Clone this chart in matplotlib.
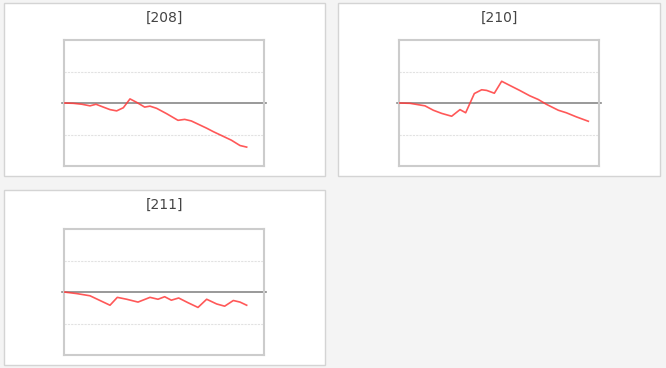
import matplotlib
matplotlib.use("Agg")
import matplotlib.pyplot as plt
from matplotlib.patches import Rectangle

titles = ["[208]", "[210]", "[211]"]

x208 = [0, 1.4, 2.7, 3.9, 4.8, 5.9, 6.9, 7.9, 8.9, 9.9, 10.9, 12.1, 12.9, 13.9,
        15.4, 17.1, 18.1, 19.1, 20.4, 21.4, 22.4, 23.9, 25.1, 26.4, 27.4]
y208 = [0, -0.01, -0.04, -0.09, -0.04, -0.13, -0.21, -0.25, -0.15, 0.13, 0.02,
        -0.13, -0.10, -0.17, -0.34, -0.55, -0.52, -0.57, -0.70, -0.80, -0.91,
        -1.06, -1.18, -1.35, -1.40]

x210 = [0, 1.65, 3.9, 5.15, 6.4, 7.9, 9.15, 10.0, 11.3, 12.4, 13.15, 14.3, 15.4,
        16.6, 18.1, 19.6, 20.9, 22.1, 23.9, 25.1, 26.6, 28.4]
y210 = [0, -0.01, -0.09, -0.23, -0.33, -0.42, -0.21, -0.31, 0.30, 0.42, 0.40,
        0.31, 0.69, 0.56, 0.40, 0.23, 0.11, -0.04, -0.23, -0.31, -0.44, -0.58]

x211 = [0, 1.9, 3.9, 5.4, 6.9, 8.0, 9.4, 11.1, 12.9, 14.1, 15.1, 16.1, 17.2,
        18.6, 20.1, 21.4, 22.9, 24.1, 25.4, 26.4, 27.4]
y211 = [0, -0.05, -0.12, -0.27, -0.42, -0.17, -0.23, -0.32, -0.17, -0.23, -0.15,
        -0.26, -0.19, -0.34, -0.49, -0.23, -0.38, -0.45, -0.27, -0.32, -0.42]

series = [(x208, y208), (x210, y210), (x211, y211)]

W, H = 666, 368
fig = plt.figure(figsize=(W / 100, H / 100), dpi=100)
fig.patch.set_facecolor("#f4f4f4")

# panel boxes (px: left, top, right, bottom)
panels = [(4, 3, 325, 176), (338, 3, 660, 176), (4, 190, 325, 365)]
axes_px = [(64, 40, 264, 166), (399, 40, 599, 166), (64, 229, 264, 355)]
title_y = [18, 18, 205]

for i, (px, ax_px) in enumerate(zip(panels, axes_px)):
    l, t, r, b = px
    fig.patches.append(Rectangle((l / W, 1 - b / H), (r - l) / W, (b - t) / H,
                                 transform=fig.transFigure, facecolor="white",
                                 edgecolor="#d4d4d4", linewidth=1.0, zorder=-5))
    fig.text((l + r) / 2 / W, 1 - title_y[i] / H, titles[i], ha="center",
             va="center", fontsize=10, color="#444444", family="DejaVu Sans")
    al, at, ar, ab = ax_px
    ax = fig.add_axes([al / W, 1 - ab / H, (ar - al) / W, (ab - at) / H])
    ax.set_facecolor("white")
    ax.set_xlim(0, 30)
    ax.set_ylim(-2, 2)
    ax.set_xticks([])
    ax.set_yticks([])
    for s in ax.spines.values():
        s.set_color("#cccccc")
        s.set_linewidth(1.5)
    for g in (-1, 1):
        ax.axhline(g, color="#e2e2e2", lw=0.8, ls=(0, (2, 1)), zorder=1)
    ax.axhline(0, xmin=-0.012, xmax=1.012, color="#888888", lw=1.2,
               clip_on=False, zorder=2)
    xs, ys = series[i]
    ax.plot(xs, ys, color="#ff3b3b", lw=1.2, alpha=0.85, zorder=3)

fig.savefig("out.png", dpi=100, facecolor=fig.get_facecolor())
